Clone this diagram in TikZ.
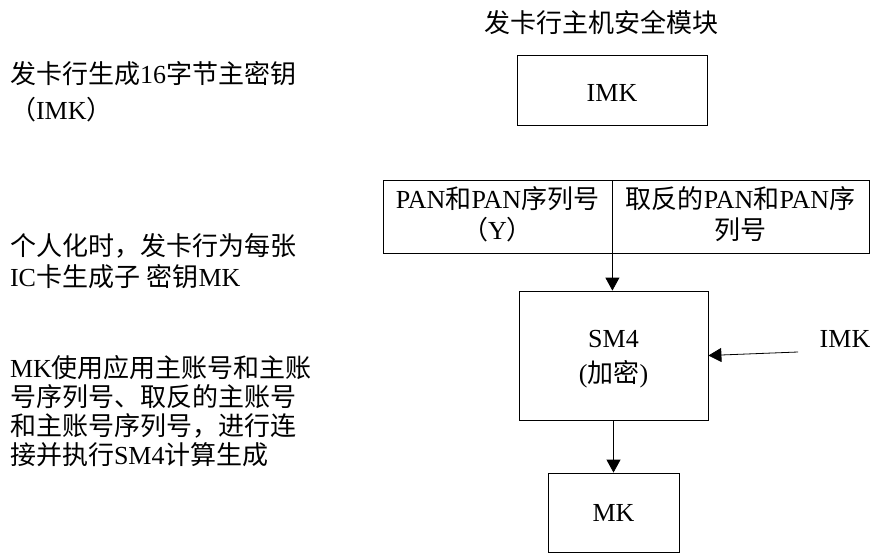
\documentclass[tikz,border=0pt]{standalone}
\usepackage{fontspec}
\setmainfont{Liberation Serif}
\newfontfamily\cjk{Noto Sans CJK SC}
\usetikzlibrary{arrows.meta}
\newcommand\zh[1]{{\cjk #1}}
\begin{document}
\begin{tikzpicture}[x=1pt,y=-1pt,
  txt/.style={font=\fontsize{26}{30}\selectfont, inner sep=0pt, outer sep=0pt},
  ltxt/.style={txt, anchor=base west},
  ctxt/.style={txt, anchor=base},
  boxsty/.style={draw, line width=0.8pt, inner sep=0pt},
  arr/.style={line width=0.8pt, -{Triangle[length=13pt,width=14pt]}}]
\useasboundingbox (0,0) rectangle (874,553);
\fill[white] (0,0) rectangle (874,553);

% left explanatory text
\node[ltxt] (l1a) at (10,84) {\zh{发卡行生成}16\zh{字节主密钥}};
\node[ltxt] (l1b) at (10,120) {\zh{（}IMK\zh{）}};
\node[ltxt] (l2a) at (10,255) {\zh{个人化时，发卡行为每张}};
\node[ltxt] (l2b) at (10,286) {IC\zh{卡生成子} \zh{密钥}MK};
\node[ltxt] (l3a) at (10,377) {MK\zh{使用应用主账号和主账}};
\node[ltxt] (l3b) at (10,406) {\zh{号序列号、取反的主账号}};
\node[ltxt] (l3c) at (10,435) {\zh{和主账号序列号，进行连}};
\node[ltxt] (l3d) at (10,464) {\zh{接并执行}SM4\zh{计算生成}};

% title
\node[ctxt] (title) at (601,33) {\zh{发卡行主机安全模块}};

% IMK box
\node[boxsty, minimum width=190, minimum height=70] (imkbox) at (612,90) {};
\node[ctxt] (imktxt) at (612,102) {IMK};

% PAN boxes
\node[boxsty, minimum width=229, minimum height=73] (panL) at (497.5,216.5) {};
\node[boxsty, minimum width=257, minimum height=73] (panR) at (740.5,216.5) {};
\node[ctxt] (panLa) at (497.5,209) {PAN\zh{和}PAN\zh{序列号}};
\node[ctxt] (panLb) at (497.5,239) {\zh{（}Y\zh{）}};
\node[ctxt] (panRa) at (740.5,209) {\zh{取反的}PAN\zh{和}PAN\zh{序}};
\node[ctxt] (panRb) at (740.5,239) {\zh{列号}};

% SM4 box
\node[boxsty, minimum width=189, minimum height=129] (sm4) at (613.5,355.5) {};
\node[ctxt] (sm4a) at (613.5,347) {SM4};
\node[ctxt] (sm4b) at (613.5,382) {(\zh{加密})};

% IMK input
\node[ctxt] (imkin) at (845,347) {IMK};
\coordinate (imkstart) at (798,352);

% MK box
\node[boxsty, minimum width=131, minimum height=79] (mk) at (613.5,512.5) {};
\node[ctxt] (mktxt) at (613.5,521) {MK};

% connectors
\draw[arr] (panL.south east) -- (panL.south east |- sm4.north);
\draw[arr] (imkstart) -- (sm4.east);
\draw[arr] (sm4.south) -- (mk.north);
\end{tikzpicture}
\end{document}
